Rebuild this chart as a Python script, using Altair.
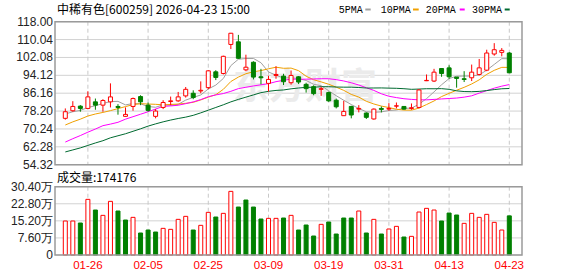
import altair as alt
import pandas as pd

# ---------------- data ----------------
dates = ["01-21","01-22","01-23","01-26","01-27","01-28","01-29","01-30",
         "02-02","02-03","02-04","02-05","02-06","02-09","02-10","02-11","02-12","02-13",
         "02-24","02-25","02-26","02-27","03-02","03-03","03-04","03-05","03-06",
         "03-09","03-10","03-11","03-12","03-13","03-16","03-17","03-18","03-19",
         "03-20","03-23","03-24","03-25","03-26","03-27","03-30","03-31",
         "04-01","04-02","04-03","04-07","04-08","04-09","04-10",
         "04-13","04-14","04-15","04-16","04-17","04-20","04-21","04-22","04-23"]

open_ = [74.97, 78.35, 80.40, 79.38, 82.31, 80.84, 82.31, 80.26, 75.85, 80.26,
         84.66, 80.84, 75.85, 79.82, 82.46, 82.75, 84.96, 86.13, 87.16, 88.63,
         95.68, 94.94, 107.87, 109.04, 96.56, 99.94, 93.47, 90.54, 94.06, 93.77,
         90.83, 93.47, 90.10, 89.07, 87.89, 86.43, 83.05, 76.15, 80.26, 79.08,
         77.32, 74.68, 79.38, 79.08, 80.40, 80.26, 79.38, 79.82, 91.71, 91.57,
         97.15, 97.44, 93.33, 92.59, 93.03, 94.50, 96.41, 103.61, 104.34, 104.05]
high = [79.38, 82.61, 80.84, 87.01, 83.78, 83.49, 90.54, 81.29, 79.82, 84.22,
        85.25, 82.02, 79.08, 83.05, 84.66, 86.72, 88.92, 87.45, 91.42, 96.41,
        96.41, 102.87, 113.00, 112.13, 103.31, 100.38, 97.00, 93.92, 98.17, 94.80,
        96.27, 93.77, 90.83, 89.66, 89.07, 86.87, 83.78, 82.75, 80.55, 80.84,
        77.61, 79.38, 80.26, 81.73, 82.02, 80.40, 81.58, 87.89, 94.50, 97.00,
        97.29, 98.61, 93.33, 95.97, 98.91, 101.41, 105.52, 108.45, 106.25, 104.49]
low = [74.38, 77.91, 77.91, 79.08, 78.79, 77.91, 79.82, 76.59, 75.70, 78.35,
       80.84, 77.91, 74.97, 79.08, 80.84, 82.31, 84.22, 83.49, 86.13, 87.89,
       92.00, 94.50, 105.81, 101.41, 95.97, 92.30, 90.10, 86.87, 92.59, 89.80,
       89.95, 90.24, 86.43, 85.25, 84.96, 82.31, 79.38, 76.15, 74.97, 77.61,
       74.68, 74.38, 77.61, 78.35, 79.38, 78.79, 78.79, 79.38, 91.57, 91.13,
       93.47, 92.59, 88.63, 91.13, 91.57, 94.06, 95.97, 102.87, 102.58, 95.09]
close = [77.91, 80.26, 79.38, 84.52, 80.84, 82.90, 84.52, 79.82, 76.73, 83.78,
         82.31, 78.50, 78.20, 82.02, 82.75, 84.52, 87.89, 84.22, 87.45, 96.12,
         93.18, 102.58, 112.86, 101.70, 97.73, 93.33, 93.03, 92.30, 94.50, 91.27,
         94.06, 91.13, 88.19, 85.98, 88.19, 82.75, 80.11, 78.05, 76.44, 79.38,
         75.41, 79.08, 78.94, 79.38, 80.55, 79.08, 79.67, 87.60, 91.86, 95.53,
         94.94, 93.47, 92.74, 92.30, 95.53, 97.44, 104.05, 105.52, 105.22, 95.24]

# volume in 万 (10k shares)
volume = [15.13, 15.13, 14.24, 24.77, 20.02, 17.65, 23.88, 19.58, 15.57, 16.76,
          9.79, 11.12, 10.23, 11.86, 11.42, 15.87, 17.20, 11.12, 13.20, 18.98,
          16.90, 18.54, 28.32, 21.35, 24.47, 21.35, 16.02, 16.31, 16.31, 16.46,
          17.65, 11.12, 13.35, 8.45, 13.64, 14.68, 9.34, 16.46, 16.46, 19.58,
          9.79, 15.87, 9.34, 11.57, 12.75, 8.01, 8.30, 19.13, 20.76, 20.02,
          15.13, 18.68, 17.80, 14.09, 18.54, 16.76, 18.09, 14.53, 11.12, 17.42]
vol_dir = ["up","up","down","up","down","up","up","down","down","up",
           "down","down","down","up","up","up","up","down","up","up",
           "down","up","up","down","down","down","down","up","up","down",
           "up","down","down","down","up","down","down","down","down","up",
           "down","up","down","up","up","down","up","up","up","up",
           "down","down","down","up","up","up","up","up","up","down"]

ma5 = [76.9, 77.9, 78.5, 79.8, 80.58, 81.58, 82.43, 82.52, 80.96, 81.55,
       81.43, 80.23, 79.90, 80.96, 80.76, 81.20, 83.08, 84.28, 85.37, 88.04,
       89.77, 92.71, 98.44, 101.29, 101.61, 101.64, 99.73, 95.62, 94.18, 92.89,
       93.03, 92.65, 91.83, 90.13, 89.51, 87.25, 85.04, 83.02, 81.11, 79.35,
       77.88, 77.67, 77.85, 78.44, 78.67, 79.41, 79.52, 81.26, 83.75, 86.75,
       89.92, 92.68, 93.71, 93.80, 93.80, 94.30, 96.41, 98.97, 101.55, 101.49]
ma10 = [72.0, 73.4, 74.6, 76.0, 76.9, 77.6, 78.4, 79.3, 80.2, 81.07,
        81.51, 81.33, 81.21, 80.96, 81.15, 81.32, 81.65, 82.09, 83.16, 84.40,
        85.49, 87.89, 91.36, 93.33, 94.83, 95.71, 96.22, 97.03, 97.73, 97.25,
        97.34, 96.19, 93.72, 92.15, 91.20, 90.14, 88.85, 87.42, 85.62, 84.43,
        82.56, 81.36, 80.43, 79.77, 79.01, 78.64, 78.60, 79.55, 81.10, 82.71,
        84.66, 86.10, 87.48, 88.77, 90.27, 92.11, 94.55, 96.34, 97.67, 97.65]
ma20 = [64.4, 65.9, 67.3, 68.8, 70.2, 71.7, 72.4, 73.2, 74.6, 75.7,
        76.8, 77.9, 79.1, 80.3, 80.5, 80.8, 81.5, 82.3, 83.3, 84.6,
        85.4, 86.0, 87.0, 88.2, 88.8, 89.4, 89.9, 90.4, 91.3, 91.9,
        92.4, 92.4, 92.4, 92.5, 92.6, 92.6, 92.2, 91.6, 90.8, 89.8,
        88.6, 87.4, 85.9, 84.8, 84.2, 83.7, 83.4, 83.2, 83.2, 83.4,
        83.6, 83.8, 84.0, 84.4, 85.0, 86.2, 87.3, 88.4, 89.3, 90.0]
ma30 = [60.0, 60.9, 61.8, 62.9, 64.0, 65.0, 66.3, 67.2, 68.1, 69.2,
        70.3, 71.5, 72.5, 73.4, 74.2, 74.9, 75.5, 76.3, 77.4, 78.6,
        79.8, 81.0, 82.3, 83.4, 84.4, 85.4, 86.4, 87.0, 87.4, 87.6,
        88.11, 88.47, 88.77, 88.81, 89.06, 89.05, 88.91, 88.85, 88.84, 88.69,
        88.46, 88.48, 88.51, 88.42, 88.34, 88.16, 87.89, 88.00, 88.15, 88.13,
        88.19, 87.88, 87.21, 86.90, 86.83, 86.96, 87.33, 87.77, 88.13, 88.26]

price_ticks = [54.32, 62.28, 70.24, 78.20, 86.16, 94.12, 102.08, 110.04, 118.00]
vol_ticks = [0, 7.60, 15.20, 22.80, 30.40]
vol_tick_labels = ["0", "7.60万", "15.20万", "22.80万", "30.40万"]
date_ticks = ["01-26", "02-05", "02-25", "03-09", "03-19", "03-31", "04-13", "04-23"]
ma_names = ["5PMA", "10PMA", "20PMA", "30PMA"]
title_name = "中稀有色[600259] 2026-04-23 15:00"
vol_title = "成交量:174176"
watermark = "东方财富"

# ---------------- layout / style ----------------
W, H = 578, 276
X0, X1 = 55, 522
PT, PB = 21.7, 164.7
VT, VB = 186.7, 255.0
RED, GREEN = "#ff0000", "#008000"
MA_COLORS = ["#a0a0a0", "#f0a000", "#ff00ff", "#006a30"]
GRID = "#d2d2d2"
FRAME = "#9a9a9a"
LABEL = "#222222"
NUM_FONT = "Liberation Sans"
CJK_FONT = "Noto Sans CJK SC"

xs = alt.Scale(domain=[0, 59], range=[60.3, 514.3])
ps = alt.Scale(domain=[54.32, 118.0], range=[PB, PT], zero=False, nice=False)
vs = alt.Scale(domain=[0, 30.40], range=[VB, VT], zero=False, nice=False)

n = len(dates)
df = pd.DataFrame({"i": list(range(n)), "date": dates, "open": open_, "high": high,
                   "low": low, "close": close, "vol": volume, "vdir": vol_dir})
df["dir"] = ["up" if c >= o else "down" for o, c in zip(open_, close)]
df["zero"] = 0.0

ma_rows = []
for name, series in zip(ma_names, [ma5, ma10, ma20, ma30]):
    for k, v in enumerate(series):
        ma_rows.append({"i": k, "v": v, "s": name})
ma_df = pd.DataFrame(ma_rows)

dir_scale_stroke = alt.Scale(domain=["up", "down"], range=[RED, GREEN])
dir_scale_fill = alt.Scale(domain=["up", "down"], range=["#ffffff", GREEN])

X = alt.X("i:Q", scale=xs, axis=None)
one = pd.DataFrame({"k": [0]})

layers = []

# gridlines
layers.append(alt.Chart(pd.DataFrame({"v": price_ticks})).mark_rule(color=GRID, strokeWidth=1).encode(
    y=alt.Y("v:Q", scale=ps, axis=None), x=alt.value(X0), x2=alt.value(X1)))
layers.append(alt.Chart(pd.DataFrame({"v": vol_ticks})).mark_rule(color=GRID, strokeWidth=1).encode(
    y=alt.Y("v:Q", scale=vs, axis=None), x=alt.value(X0), x2=alt.value(X1)))
tick_idx = pd.DataFrame({"i": [dates.index(d) for d in date_ticks], "lab": date_ticks})
layers.append(alt.Chart(tick_idx).mark_rule(color="#c8c8c8", strokeDash=[4, 3], strokeWidth=1).encode(
    x=X, y=alt.value(PT), y2=alt.value(PB)))
layers.append(alt.Chart(tick_idx).mark_rule(color="#c8c8c8", strokeDash=[4, 3], strokeWidth=1).encode(
    x=X, y=alt.value(VT), y2=alt.value(VB)))

# watermark
layers.append(alt.Chart(one).mark_text(font=CJK_FONT, fontSize=36, fontWeight="bold", color="#ebebeb",
                                        align="center", baseline="middle").encode(
    x=alt.value(305), y=alt.value(88), text=alt.value(watermark)))

# moving averages
layers.append(alt.Chart(ma_df).mark_line(strokeWidth=1, interpolate="linear").encode(
    x=X, y=alt.Y("v:Q", scale=ps, axis=None),
    color=alt.Color("s:N", scale=alt.Scale(domain=ma_names, range=MA_COLORS), legend=None),
    order="i:Q"))

# candles
layers.append(alt.Chart(df).mark_rule(strokeWidth=1).encode(
    x=X, y=alt.Y("low:Q", scale=ps, axis=None), y2="high:Q",
    color=alt.Color("dir:N", scale=dir_scale_stroke, legend=None)))
layers.append(alt.Chart(df).mark_bar(size=4, strokeWidth=1).encode(
    x=X, y=alt.Y("open:Q", scale=ps, axis=None), y2="close:Q",
    fill=alt.Fill("dir:N", scale=dir_scale_fill, legend=None),
    stroke=alt.Stroke("dir:N", scale=dir_scale_stroke, legend=None)))

# volume bars
layers.append(alt.Chart(df).mark_bar(size=4, strokeWidth=1).encode(
    x=X, y=alt.Y("vol:Q", scale=vs, axis=None), y2="zero:Q",
    fill=alt.Fill("vdir:N", scale=dir_scale_fill, legend=None),
    stroke=alt.Stroke("vdir:N", scale=dir_scale_stroke, legend=None)))

# frames
for t, b in [(PT, PB), (VT, VB)]:
    layers.append(alt.Chart(one).mark_rect(fillOpacity=0, stroke=FRAME, strokeWidth=1.5).encode(
        x=alt.value(X0), x2=alt.value(X1), y=alt.value(t), y2=alt.value(b)))

# axis labels
layers.append(alt.Chart(pd.DataFrame({"v": price_ticks, "lab": [f"{v:.2f}" for v in price_ticks]})).mark_text(
    font=NUM_FONT, fontSize=12, color=LABEL, align="right", baseline="middle").encode(
    y=alt.Y("v:Q", scale=ps, axis=None), x=alt.value(53), text="lab:N"))
layers.append(alt.Chart(pd.DataFrame({"v": vol_ticks, "lab": vol_tick_labels})).mark_text(
    font=NUM_FONT, fontSize=12, color=LABEL, align="right", baseline="middle").encode(
    y=alt.Y("v:Q", scale=vs, axis=None), x=alt.value(53), text="lab:N"))
layers.append(alt.Chart(tick_idx).mark_text(
    font=NUM_FONT, fontSize=11.5, color=RED, align="center", baseline="middle").encode(
    x=X, y=alt.value(266), text="lab:N"))

# titles
layers.append(alt.Chart(one).mark_text(font=CJK_FONT, fontSize=12, color="#000000",
                                        align="left", baseline="middle").encode(
    x=alt.value(57), y=alt.value(9.5), text=alt.value(title_name)))
layers.append(alt.Chart(one).mark_text(font=CJK_FONT, fontSize=12, color="#000000",
                                        align="left", baseline="middle").encode(
    x=alt.value(57), y=alt.value(177.5), text=alt.value(vol_title)))

# legend
leg_text_x = [338.7, 380.7, 425.7, 472.0]
leg_line_x = [(365.3, 370.7), (413.0, 418.7), (459.7, 464.7), (504.7, 509.7)]
for name, col, tx, (lx1, lx2) in zip(ma_names, MA_COLORS, leg_text_x, leg_line_x):
    layers.append(alt.Chart(one).mark_text(font="Liberation Mono", fontSize=10, color="#000000",
                                            align="left", baseline="middle").encode(
        x=alt.value(tx), y=alt.value(9.5), text=alt.value(name)))
    layers.append(alt.Chart(one).mark_rule(color=col, strokeWidth=2).encode(
        x=alt.value(lx1), x2=alt.value(lx2), y=alt.value(9.5)))

chart = alt.layer(*layers).resolve_scale(
    y="independent", color="independent", fill="independent", stroke="independent"
).properties(width=W, height=H, autosize="none", padding=0, background="#ffffff"
).configure_view(stroke=None)

chart.save("out.html", embed_options={"renderer": "svg", "actions": False})
